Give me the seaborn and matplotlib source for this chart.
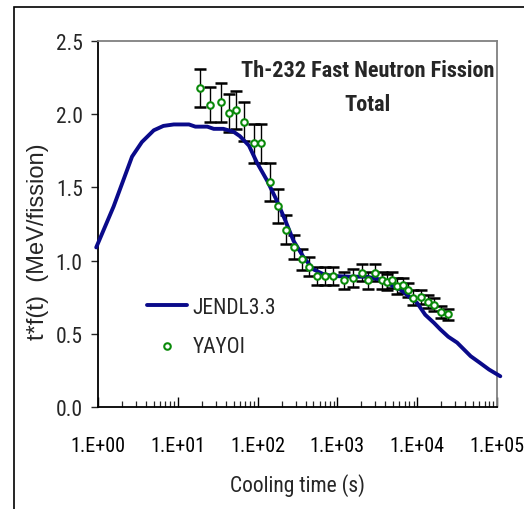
import matplotlib
matplotlib.use("Agg")
import matplotlib.pyplot as plt
import matplotlib.ticker as mticker
from matplotlib.patches import Rectangle
import seaborn as sns
import pandas as pd
import numpy as np

# ---------------- data ----------------
jendl_t = [0.95, 1.57, 2.67, 3.55, 5.0, 6.6, 8.9, 13.8, 16.6, 23.4, 28.2, 37.2, 50, 60,
           78, 98, 132, 174, 224, 282, 380, 500, 676, 891, 1450, 2340, 3470, 5000, 6200,
           10000, 12600, 16200, 19500, 24500, 31600, 46800, 61700, 79400, 110000]
jendl_y = [1.09, 1.37, 1.71, 1.81, 1.89, 1.92, 1.93, 1.93, 1.915, 1.915, 1.90, 1.90, 1.88, 1.85,
           1.785, 1.67, 1.545, 1.41, 1.27, 1.135, 1.02, 0.94, 0.906, 0.895, 0.89, 0.89, 0.87, 0.826, 0.80,
           0.71, 0.63, 0.575, 0.53, 0.48, 0.44, 0.347, 0.30, 0.256, 0.21]

yayoi_t = [18.8, 25.1, 34.7, 44.3, 53.7, 67.6, 91.2, 110, 141, 178, 227, 288, 360, 437, 562,
           708, 891, 1200, 1580, 2040, 2450, 2950, 3630, 4170, 4790, 5620, 6610, 7590, 8910,
           11200, 13800, 16200, 20000, 24000]
yayoi_y = [2.178, 2.064, 2.08, 2.01, 2.03, 1.95, 1.80, 1.80, 1.535, 1.374, 1.21, 1.093, 1.009,
           0.959, 0.894, 0.894, 0.894, 0.867, 0.881, 0.918, 0.867, 0.918, 0.867, 0.853, 0.867,
           0.826, 0.83, 0.80, 0.747, 0.753, 0.719, 0.70, 0.648, 0.632]
yayoi_err = [0.13, 0.12, 0.13, 0.13, 0.13, 0.13, 0.135, 0.13, 0.13, 0.115, 0.10, 0.08, 0.07,
             0.065, 0.062, 0.062, 0.062, 0.058, 0.06, 0.06, 0.058, 0.06, 0.058, 0.055, 0.055,
             0.055, 0.052, 0.05, 0.05, 0.048, 0.045, 0.045, 0.042, 0.04]

x_ticks = [1, 10, 100, 1000, 10000, 100000]
x_ticklabels = ["1.E+00", "1.E+01", "1.E+02", "1.E+03", "1.E+04", "1.E+05"]
y_ticks = [0.0, 0.5, 1.0, 1.5, 2.0, 2.5]
y_ticklabels = ["0.0", "0.5", "1.0", "1.5", "2.0", "2.5"]

title_text = "Th-232 Fast Neutron Fission\nTotal"
xlabel_text = "Cooling time (s)"
ylabel_text = "t*f(t)  (MeV/fission)"

# ---------------- style ----------------
sns.set_style("white")
narrow_fams = ["Roboto Condensed", "PT Sans Narrow", "Archivo Narrow", "DejaVu Sans"]
plt.rcParams["font.family"] = narrow_fams
plt.rcParams["font.stretch"] = "condensed"

fig = plt.figure(figsize=(5.24, 5.10), dpi=100)
ax = fig.add_axes([98 / 524, 1 - 408 / 510, (497 - 98) / 524, (408 - 42) / 510])

# outer frame (extends beyond right/bottom edges)
fig.patches.append(Rectangle((14 / 524, -0.05), 1.2, 1 - 8 / 510 + 0.05,
                             transform=fig.transFigure, fill=False,
                             edgecolor="black", linewidth=1.2, zorder=0))

df_j = pd.DataFrame({"t": jendl_t, "y": jendl_y, "series": "JENDL3.3"})
df_y = pd.DataFrame({"t": yayoi_t, "y": yayoi_y, "err": yayoi_err, "series": "YAYOI"})

ax.errorbar(df_y["t"], df_y["y"], yerr=df_y["err"], fmt="none", ecolor="black",
            elinewidth=1.0, capsize=4.5, capthick=1.8, zorder=2)
sns.lineplot(data=df_j, x="t", y="y", ax=ax, color="#0a0a8a", linewidth=2.8,
             label="JENDL3.3", zorder=3, clip_on=False, sort=False)
sns.scatterplot(data=df_y, x="t", y="y", ax=ax, marker="o", s=22,
                facecolor="white", edgecolor="#0a8a0a", linewidth=1.5,
                label="YAYOI", zorder=4)

ax.set_xscale("log")
ax.set_xlim(1, 100000)
ax.set_ylim(0, 2.5)
ax.set_xticks(x_ticks)
ax.set_xticklabels(x_ticklabels)
ax.set_yticks(y_ticks)
ax.set_yticklabels(y_ticklabels)
ax.xaxis.set_minor_locator(mticker.LogLocator(base=10, subs=np.arange(2, 10)))
ax.xaxis.set_minor_formatter(mticker.NullFormatter())

ax.tick_params(axis="x", which="major", direction="in", length=7, width=1,
               labelsize=14.5, pad=21, colors="black", bottom=True)
ax.tick_params(axis="x", which="minor", direction="in", length=4, width=0.9,
               bottom=True)
ax.tick_params(axis="y", which="major", direction="out", length=5, width=1,
               labelsize=15.5, pad=6, left=True)

for s in ["left", "bottom"]:
    ax.spines[s].set_color("black")
    ax.spines[s].set_linewidth(1.3)
for s in ["top", "right"]:
    ax.spines[s].set_color("#808080")
    ax.spines[s].set_linewidth(1.3)

ax.set_xlabel(xlabel_text, fontsize=15.5, labelpad=13)
ax.set_ylabel("")
fig.text(38 / 524, 1 - 242 / 510, ylabel_text, rotation=90, ha="center", va="center",
         fontsize=17, family=["Liberation Sans", "DejaVu Sans"], fontstretch="normal")

ax.text(0.675, 0.874, title_text, transform=ax.transAxes, ha="center", va="center",
        fontsize=16, fontweight="bold", linespacing=1.7)

leg = ax.legend(loc="upper left", bbox_to_anchor=(0.1, 0.325), frameon=False,
                fontsize=15.5, handlelength=1.9, handletextpad=0.25, labelspacing=0.85,
                borderaxespad=0)

fig.savefig("out.png", dpi=100)
